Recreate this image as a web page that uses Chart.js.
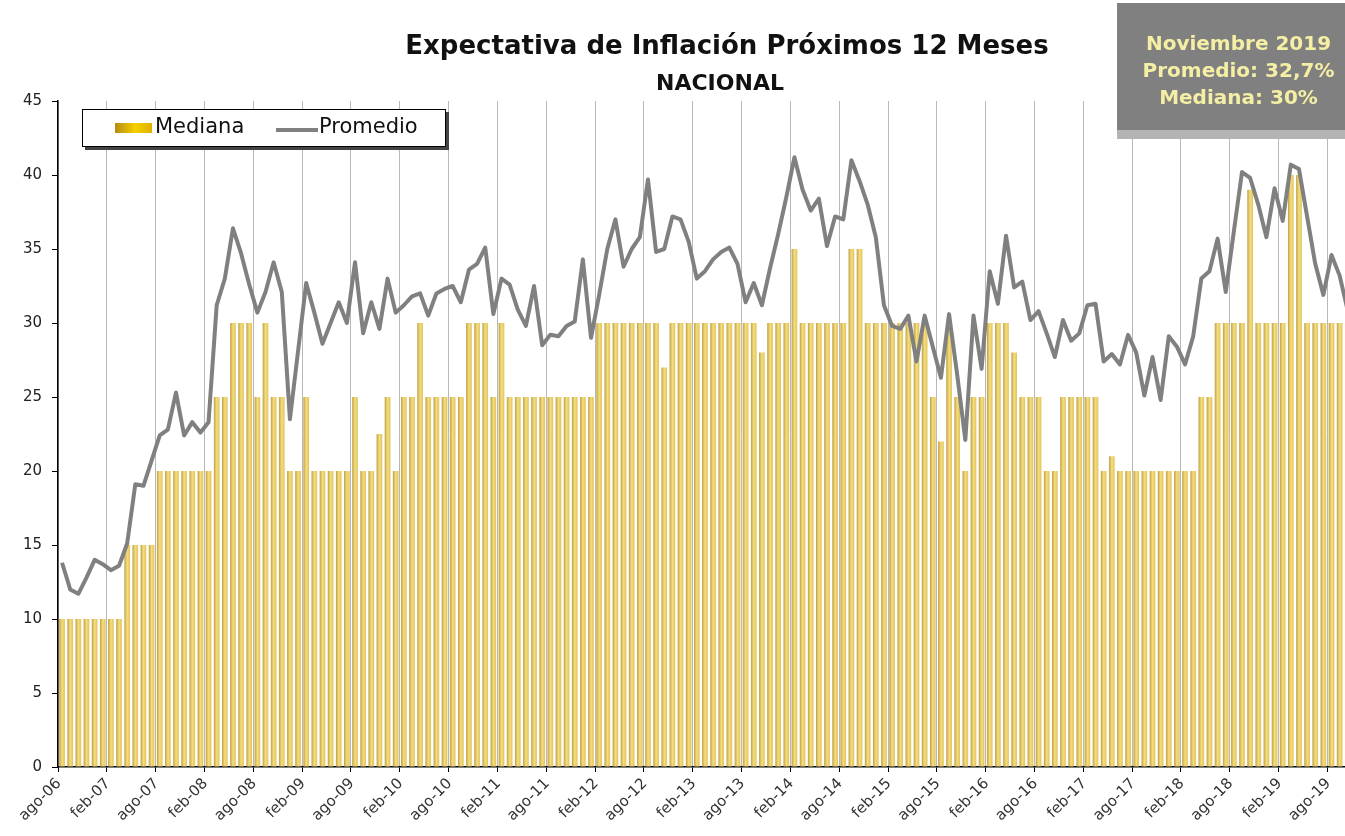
<!DOCTYPE html>
<html>
<head>
<meta charset="utf-8">
<script src="https://cdn.jsdelivr.net/npm/chart.js@4.4.1/dist/chart.umd.min.js"></script>
<style>
  body { margin: 0; width: 1345px; height: 836px; overflow: hidden; background: #fff; position: relative; font-family: 'DejaVu Sans', sans-serif; }
  #wrap { position: absolute; left: 0; top: 0; width: 1360px; height: 836px; }
  .title { position: absolute; left: 300px; width: 854px; text-align: center; font-weight: bold; color: #111; }
  #t1 { top: 30px; font-size: 26px; }
  #t2 { top: 70px; font-size: 22px; left: 293px; }
  #legend { position: absolute; left: 82px; top: 109px; width: 362px; height: 36px; border: 1.5px solid #000; background: #fff; box-shadow: 3px 3px 0 #444; font-size: 21px; color: #111; }
  #legend span { position: absolute; top: 4px; }
  #info { position: absolute; left: 1117px; top: 3px; width: 243px; height: 127px; background: #808080; box-shadow: 0 9px 0 #b4b4b4; color: #f4efa4; text-align: center; font-weight: bold; font-size: 20px; line-height: 27px; padding-top: 27px; box-sizing: border-box; }
</style>
</head>
<body>
<div id="wrap"><canvas id="chart" width="1360" height="836"></canvas></div>
<div class="title" id="t1">Expectativa de Inflación Próximos 12 Meses</div>
<div class="title" id="t2">NACIONAL</div>
<div id="legend"></div>
<div id="info">Noviembre 2019<br>Promedio: 32,7%<br>Mediana: 30%</div>
<script>
// meses ago-06 .. nov-19
const monthNames = ['ene', 'feb', 'mar', 'abr', 'may', 'jun', 'jul', 'ago', 'sep', 'oct', 'nov', 'dic'];
const firstYear = 2006, firstMonth = 7, monthCount = 160;
const categories = [];
for (let i = 0; i < monthCount; i++) {
    const m = (firstMonth + i) % 12;
    const y = firstYear + Math.floor((firstMonth + i) / 12);
    categories.push(monthNames[m] + '-' + String(y).slice(2));
}

// Mediana (% esperado), por año
const mediana = [
    10, 10, 10, 10, 10,
    10, 10, 10, 15, 15, 15, 15, 20, 20, 20, 20, 20,
    20, 20, 25, 25, 30, 30, 30, 25, 30, 25, 25, 20,
    20, 25, 20, 20, 20, 20, 20, 25, 20, 20, 22.5, 25,
    20, 25, 25, 30, 25, 25, 25, 25, 25, 30, 30, 30,
    25, 30, 25, 25, 25, 25, 25, 25, 25, 25, 25, 25,
    25, 30, 30, 30, 30, 30, 30, 30, 30, 27, 30, 30,
    30, 30, 30, 30, 30, 30, 30, 30, 30, 28, 30, 30,
    30, 35, 30, 30, 30, 30, 30, 30, 35, 35, 30, 30,
    30, 30, 30, 30, 30, 30, 25, 22, 30, 25, 20, 25,
    25, 30, 30, 30, 28, 25, 25, 25, 20, 20, 25, 25,
    25, 25, 25, 20, 21, 20, 20, 20, 20, 20, 20, 20,
    20, 20, 20, 25, 25, 30, 30, 30, 30, 39, 30, 30,
    30, 30, 40, 40, 30, 30, 30, 30, 30, 30, 30
];

// Promedio (% esperado), por año
const promedio = [
    13.8, 12.0, 11.7, 12.8, 14.0,
    13.7, 13.3, 13.6, 15.1, 19.1, 19.0, 20.7, 22.4, 22.8, 25.3, 22.4, 23.3,
    22.6, 23.3, 31.2, 33.0, 36.4, 34.7, 32.6, 30.7, 32.1, 34.1, 32.1, 23.5,
    28.1, 32.7, 30.7, 28.6, 30.0, 31.4, 30.0, 34.1, 29.3, 31.4, 29.6, 33.0,
    30.7, 31.2, 31.8, 32.0, 30.5, 32.0, 32.3, 32.5, 31.4, 33.6, 34.0, 35.1,
    30.6, 33.0, 32.6, 30.9, 29.8, 32.5, 28.5, 29.2, 29.1, 29.8, 30.1, 34.3,
    29.0, 31.9, 35.0, 37.0, 33.8, 35.0, 35.8, 39.7, 34.8, 35.0, 37.2, 37.0,
    35.5, 33.0, 33.5, 34.3, 34.8, 35.1, 34.0, 31.4, 32.7, 31.2, 33.7, 36.0,
    38.5, 41.2, 39.0, 37.6, 38.4, 35.2, 37.2, 37.0, 41.0, 39.6, 38.0, 35.8,
    31.2, 29.8, 29.6, 30.5, 27.4, 30.5, 28.4, 26.3, 30.6, 26.5, 22.1, 30.5,
    26.9, 33.5, 31.3, 35.9, 32.4, 32.8, 30.2, 30.8, 29.3, 27.7, 30.2, 28.8,
    29.3, 31.2, 31.3, 27.4, 27.9, 27.2, 29.2, 28.0, 25.1, 27.7, 24.8, 29.1,
    28.4, 27.2, 29.1, 33.0, 33.5, 35.7, 32.1, 36.2, 40.2, 39.8, 38.0, 35.8,
    39.1, 36.9, 40.7, 40.4, 37.2, 34.0, 31.9, 34.6, 33.2, 30.8, 32.7
];

const yTicks = [0, 5, 10, 15, 20, 25, 30, 35, 40, 45];
const labelEvery = 6;   // feb / ago

const barPct = 0.7;
const goldStops = ['#bea04a', '#f4de7c', '#e2c35c'];

function barFill(ctx) {
    const chart = ctx.chart;
    const xs = chart.scales && chart.scales.x;
    if (!xs || !chart.chartArea) return '#e6cd6c';
    const cx = xs.getPixelForValue(ctx.dataIndex);
    const w = xs.width / categories.length * barPct;
    const g = chart.ctx.createLinearGradient(cx - w / 2, 0, cx + w / 2, 0);
    g.addColorStop(0, goldStops[0]);
    g.addColorStop(0.5, goldStops[1]);
    g.addColorStop(1, goldStops[2]);
    return g;
}

const chart = new Chart(document.getElementById('chart'), {
    data: {
        labels: categories,
        datasets: [
            {
                type: 'line',
                label: 'Promedio',
                data: promedio,
                borderColor: '#808080',
                borderWidth: 4,
                pointRadius: 0,
                tension: 0,
                borderJoinStyle: 'round',
                order: 0
            },
            {
                type: 'bar',
                label: 'Mediana',
                data: mediana,
                backgroundColor: barFill,
                barPercentage: barPct,
                categoryPercentage: 1,
                order: 1
            }
        ]
    },
    options: {
        responsive: false,
        animation: false,
        events: [],
        layout: { padding: { top: 101, left: 0, right: 0, bottom: 0 } },
        plugins: {
            legend: { display: false },
            tooltip: { enabled: false }
        },
        scales: {
            x: {
                type: 'category',
                offset: true,
                afterFit: s => { s.height = 69; s.paddingRight = 0; s.paddingLeft = 0; },
                border: { color: '#000', width: 1.5 },
                grid: {
                    offset: true,
                    color: c => c.index % labelEvery === 0 ? '#b8b8b8' : 'rgba(0,0,0,0)',
                    lineWidth: 1,
                    tickLength: 5,
                    tickColor: c => c.index % labelEvery === 0 ? '#000' : 'rgba(0,0,0,0)'
                },
                ticks: {
                    autoSkip: false,
                    minRotation: 45,
                    maxRotation: 45,
                    labelOffset: -3,
                    padding: 3,
                    color: '#333',
                    font: { family: 'DejaVu Sans', size: 15 },
                    callback: (v, i) => i % labelEvery === 0 ? categories[i] : ''
                }
            },
            y: {
                min: 0,
                max: 45,
                afterFit: s => { s.width = 58; },
                afterBuildTicks: s => { s.ticks = yTicks.map(v => ({ value: v })); },
                border: { color: '#000', width: 1.5 },
                grid: { drawOnChartArea: false, tickLength: 6, tickColor: '#000' },
                ticks: {
                    padding: 10,
                    color: '#222',
                    font: { family: 'DejaVu Sans', size: 15 }
                }
            }
        }
    }
});

// leyenda a partir de los datasets
const legend = document.getElementById('legend');
const med = chart.data.datasets[1], prom = chart.data.datasets[0];
legend.innerHTML =
    '<span style="left:32px;top:13px;width:37px;height:10px;background:linear-gradient(90deg,#b98a10,#f3d000 55%,#e0b000)"></span>' +
    '<span style="left:72px">' + med.label + '</span>' +
    '<span style="left:193px;top:18px;width:42px;height:4px;background:' + prom.borderColor + '"></span>' +
    '<span style="left:236px">' + prom.label + '</span>';
</script>
</body>
</html>
